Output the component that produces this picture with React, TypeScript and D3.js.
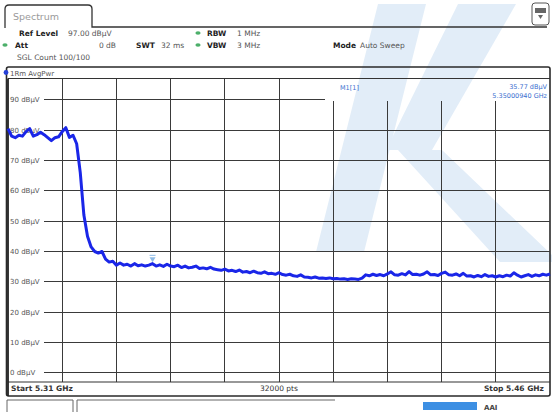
import { useEffect, useRef } from "react";
import * as d3 from "d3";

const W = 552;
const H = 412;

const START_MHZ = 5310;
const STOP_MHZ = 5460;
const REF_LEVEL = 97;
const RANGE_DB = 100;
const Y_TICKS = [90, 80, 70, 60, 50, 40, 30, 20, 10, 0];

// trace, 1 MHz steps
const FREQ_MHZ = [
  5310, 5311, 5312, 5313, 5314, 5315, 5316, 5317, 5318, 5319,
  5320, 5321, 5322, 5323, 5324, 5325, 5326, 5327, 5328, 5329,
  5330, 5331, 5332, 5333, 5334, 5335, 5336, 5337, 5338, 5339,
  5340, 5341, 5342, 5343, 5344, 5345, 5346, 5347, 5348, 5349,
  5350, 5351, 5352, 5353, 5354, 5355, 5356, 5357, 5358, 5359,
  5360, 5361, 5362, 5363, 5364, 5365, 5366, 5367, 5368, 5369,
  5370, 5371, 5372, 5373, 5374, 5375, 5376, 5377, 5378, 5379,
  5380, 5381, 5382, 5383, 5384, 5385, 5386, 5387, 5388, 5389,
  5390, 5391, 5392, 5393, 5394, 5395, 5396, 5397, 5398, 5399,
  5400, 5401, 5402, 5403, 5404, 5405, 5406, 5407, 5408, 5409,
  5410, 5411, 5412, 5413, 5414, 5415, 5416, 5417, 5418, 5419,
  5420, 5421, 5422, 5423, 5424, 5425, 5426, 5427, 5428, 5429,
  5430, 5431, 5432, 5433, 5434, 5435, 5436, 5437, 5438, 5439,
  5440, 5441, 5442, 5443, 5444, 5445, 5446, 5447, 5448, 5449,
  5450, 5451, 5452, 5453, 5454, 5455, 5456, 5457, 5458, 5459,
  5460,
];
const LEVEL_DBUV = [
  80.5, 78.0, 77.5, 78.3, 78.0, 79.5, 80.5, 78.0, 78.5, 79.3,
  78.5, 77.5, 76.5, 77.5, 77.8, 79.5, 80.8, 77.6, 78.3, 75.5,
  66.0, 52.0, 45.0, 41.5, 40.0, 39.5, 40.0, 37.5, 36.5, 36.8,
  35.5, 36.2, 35.5, 35.8, 35.2, 36.0, 35.3, 35.6, 35.2, 35.5,
  36.0, 35.2, 35.6, 35.1, 35.8, 35.2, 35.0, 35.5, 34.7, 35.2,
  34.6, 34.8, 35.2, 34.4, 34.6, 34.3, 34.8, 34.2, 34.0, 33.8,
  34.2, 33.6, 33.8, 33.4, 33.9, 33.2, 33.4, 33.0, 33.5, 33.0,
  32.8, 33.3, 32.7, 32.8, 32.5, 33.0, 32.4, 32.2, 32.5, 32.0,
  31.8, 32.3, 31.6, 31.5, 31.3, 31.6, 31.2, 31.3, 31.1, 31.3,
  31.0, 31.1, 30.9, 31.0, 30.8, 31.0, 30.9, 30.8, 31.2, 32.3,
  32.0, 32.5, 32.1, 32.4, 32.0, 32.6, 33.3, 32.3, 32.2, 32.7,
  32.3, 33.4, 32.4, 32.5, 32.2, 32.6, 33.3, 32.3, 32.4, 32.1,
  32.8, 33.2, 32.3, 32.2, 32.6, 32.0, 32.8, 31.9, 32.0, 31.6,
  32.1, 31.7, 32.4, 31.8, 32.0, 31.6, 32.0, 31.7, 32.2, 31.9,
  33.0, 32.2, 31.6, 32.0, 32.4, 31.8, 32.3, 32.0, 32.5, 32.2,
  32.6,
];

const MARKER_MHZ = 5350.0094;
const MARKER_LEVEL = 35.77;

const FONT = "'DejaVu Sans', sans-serif";

export default function App() {
  const svgRef = useRef<SVGSVGElement>(null);

  useEffect(() => {
    if (!svgRef.current) return;
    const svg = d3.select(svgRef.current);
    svg.selectAll("*").remove();

    const plot = { left: 8, right: 550, top: 78.5, bottom: 382 };
    const boxX = 325;
    const boxBottom = 101;

    const x = d3
      .scaleLinear()
      .domain([START_MHZ, STOP_MHZ])
      .range([plot.left, plot.right]);
    const y = d3
      .scaleLinear()
      .domain([REF_LEVEL - RANGE_DB, REF_LEVEL])
      .range([plot.bottom, plot.top]);

    svg.append("rect").attr("width", W).attr("height", H).attr("fill", "#fff");

    // watermark logo
    const wm = svg.append("g").attr("fill", "#e2edf8");
    wm.append("path").attr("d", "M378,4 L426,4 L364,252 L316,252 Z");
    wm.append("path").attr("d", "M458,4 L516,4 L432,150 L386,150 Z");
    wm.append("path").attr("d", "M398,150 L442,150 L552,255 L552,262 L500,262 Z");

    // tab
    svg
      .append("path")
      .attr("d", "M5,28 L5,9 Q5,5 9,5 L88,5 Q92,5 92,9 L92,27 L547,27")
      .attr("fill", "none")
      .attr("stroke", "#333")
      .attr("stroke-width", 1.3);
    svg
      .append("text")
      .attr("x", 13)
      .attr("y", 20)
      .style("font-family", FONT)
      .style("font-size", "9.5px")
      .style("fill", "#9a9a9a")
      .text("Spectrum");

    // top right icon
    svg
      .append("rect")
      .attr("x", 532)
      .attr("y", 3)
      .attr("width", 17)
      .attr("height", 22)
      .attr("rx", 3)
      .attr("fill", "#fff")
      .attr("stroke", "#555")
      .attr("stroke-width", 1);
    svg
      .append("rect")
      .attr("x", 535)
      .attr("y", 8)
      .attr("width", 11)
      .attr("height", 5)
      .attr("fill", "#666");
    svg
      .append("path")
      .attr("d", "M538,15 L543,15 L540.5,19 Z")
      .attr("fill", "#666");

    // header setting rows
    const hdr = svg.append("g").style("font-family", FONT).style("font-size", "7.5px");
    const hText = (tx: number, ty: number, s: string, bold = false, anchor = "start") =>
      hdr
        .append("text")
        .attr("x", tx)
        .attr("y", ty)
        .attr("text-anchor", anchor)
        .style("font-weight", bold ? "bold" : "normal")
        .style("fill", bold ? "#222" : "#555")
        .text(s);
    hText(19, 36, "Ref Level", true);
    hText(68, 36, "97.00 dBµV");
    hText(15, 48, "Att", true);
    hText(116, 48, "0 dB", false, "end");
    hText(136, 48, "SWT", true);
    hText(161, 48, "32 ms");
    hText(207, 36, "RBW", true);
    hText(237, 36, "1 MHz");
    hText(207, 48, "VBW", true);
    hText(237, 48, "3 MHz");
    hText(333, 48, "Mode", true);
    hText(360, 48, "Auto Sweep");
    hText(17, 60, "SGL Count 100/100");
    [
      [5, 45],
      [198, 33],
      [198, 45],
    ].forEach(([cx, cy]) =>
      svg
        .append("ellipse")
        .attr("cx", cx)
        .attr("cy", cy)
        .attr("rx", 2.6)
        .attr("ry", 1.8)
        .attr("fill", "#4caf6a")
    );

    // trace window frame
    svg
      .append("rect")
      .attr("x", 6.5)
      .attr("y", 67)
      .attr("width", 543.5)
      .attr("height", 329)
      .attr("rx", 2)
      .attr("fill", "none")
      .attr("stroke", "#2a2a2a")
      .attr("stroke-width", 1.6);
    svg
      .append("circle")
      .attr("cx", 6)
      .attr("cy", 72.5)
      .attr("r", 2.4)
      .attr("fill", "#2540d8");
    svg
      .append("text")
      .attr("x", 10)
      .attr("y", 75.5)
      .style("font-family", FONT)
      .style("font-size", "7px")
      .style("fill", "#555")
      .text("1Rm AvgPwr");

    const grid = svg
      .append("g")
      .attr("stroke", "#3a3a3a")
      .attr("stroke-width", 1)
      .attr("shape-rendering", "crispEdges");

    // vertical divisions
    const xDivs = d3.range(1, 10).map((i) => START_MHZ + (i * (STOP_MHZ - START_MHZ)) / 10);
    grid
      .selectAll("line.v")
      .data(xDivs)
      .enter()
      .append("line")
      .attr("x1", (d) => x(d))
      .attr("x2", (d) => x(d))
      .attr("y1", (d) => (x(d) > boxX ? boxBottom : plot.top))
      .attr("y2", plot.bottom);

    // horizontal divisions
    grid
      .selectAll("line.h")
      .data(Y_TICKS)
      .enter()
      .append("line")
      .attr("x1", 44)
      .attr("x2", (d) => (y(d) < boxBottom + 1 ? boxX : plot.right))
      .attr("y1", (d) => y(d))
      .attr("y2", (d) => y(d));

    // plot borders
    svg
      .append("line")
      .attr("x1", plot.left)
      .attr("x2", plot.right)
      .attr("y1", plot.top)
      .attr("y2", plot.top)
      .attr("stroke", "#333")
      .attr("stroke-width", 1.2);
    svg
      .append("line")
      .attr("x1", plot.left)
      .attr("x2", plot.right)
      .attr("y1", plot.bottom)
      .attr("y2", plot.bottom)
      .attr("stroke", "#333")
      .attr("stroke-width", 1.2);
    svg
      .append("line")
      .attr("x1", plot.left)
      .attr("x2", plot.left)
      .attr("y1", plot.top)
      .attr("y2", 396)
      .attr("stroke", "#222")
      .attr("stroke-width", 1.8);

    // y labels
    const yl = svg
      .append("g")
      .style("font-family", FONT)
      .style("font-size", "7px")
      .style("fill", "#555");
    Y_TICKS.forEach((t) => {
      yl.append("rect")
        .attr("x", 9.5)
        .attr("y", y(t) - 4.5)
        .attr("width", 34)
        .attr("height", 8)
        .attr("fill", "#fff");
      yl.append("text")
        .attr("x", 10)
        .attr("y", y(t) + 2.5)
        .text(`${t} dBµV`);
    });

    // trace
    const pts: [number, number][] = FREQ_MHZ.map((f, i) => [f, LEVEL_DBUV[i]]);
    const line = d3
      .line<[number, number]>()
      .x((d) => x(d[0]))
      .y((d) => y(d[1]))
      .curve(d3.curveLinear);
    svg
      .append("path")
      .datum(pts)
      .attr("d", line)
      .attr("fill", "none")
      .attr("stroke", "#1a26e8")
      .attr("stroke-width", 3)
      .attr("stroke-linejoin", "round");

    // marker
    const mx = x(MARKER_MHZ);
    const my = y(MARKER_LEVEL);
    svg
      .append("path")
      .attr("d", `M${mx - 3},${my - 7} L${mx + 3},${my - 7} L${mx},${my - 2} Z`)
      .attr("fill", "#8fbbe6");
    svg
      .append("line")
      .attr("x1", mx - 3)
      .attr("x2", mx + 3)
      .attr("y1", my - 9)
      .attr("y2", my - 9)
      .attr("stroke", "#8fbbe6")
      .attr("stroke-width", 1);

    // marker readout
    const mk = svg
      .append("g")
      .style("font-family", FONT)
      .style("font-size", "6.5px")
      .style("fill", "#3a6fcf");
    mk.append("text").attr("x", 340).attr("y", 90).text("M1[1]");
    mk.append("text")
      .attr("x", 547)
      .attr("y", 89)
      .attr("text-anchor", "end")
      .text(`${MARKER_LEVEL.toFixed(2)} dBµV`);
    mk.append("text")
      .attr("x", 547)
      .attr("y", 98)
      .attr("text-anchor", "end")
      .text(`${(MARKER_MHZ / 1000).toFixed(8)} GHz`);

    // bottom row
    const bt = svg
      .append("g")
      .style("font-family", FONT)
      .style("font-size", "7.5px")
      .style("font-weight", "bold")
      .style("fill", "#333");
    bt.append("text").attr("x", 11).attr("y", 391).text(`Start ${(START_MHZ / 1000).toFixed(2)} GHz`);
    bt.append("text")
      .attr("x", 279)
      .attr("y", 391)
      .attr("text-anchor", "middle")
      .style("font-weight", "normal")
      .text("32000 pts");
    bt.append("text")
      .attr("x", 544)
      .attr("y", 391)
      .attr("text-anchor", "end")
      .text(`Stop ${(STOP_MHZ / 1000).toFixed(2)} GHz`);

    // status bar
    svg
      .append("path")
      .attr("d", "M7,412 L7,400 L73,400 L73,412 M77,412 L77,400 L335,400")
      .attr("fill", "none")
      .attr("stroke", "#666")
      .attr("stroke-width", 1);
    svg
      .append("rect")
      .attr("x", 423)
      .attr("y", 402)
      .attr("width", 54)
      .attr("height", 8)
      .attr("fill", "#3d8fe3");
    svg
      .append("text")
      .attr("x", 484)
      .attr("y", 410)
      .style("font-family", FONT)
      .style("font-size", "7px")
      .style("font-weight", "bold")
      .style("fill", "#444")
      .text("AAI");
  }, []);

  return (
    <svg
      ref={svgRef}
      width={W}
      height={H}
      style={{ position: "absolute", left: 0, top: 0, display: "block" }}
    />
  );
}
